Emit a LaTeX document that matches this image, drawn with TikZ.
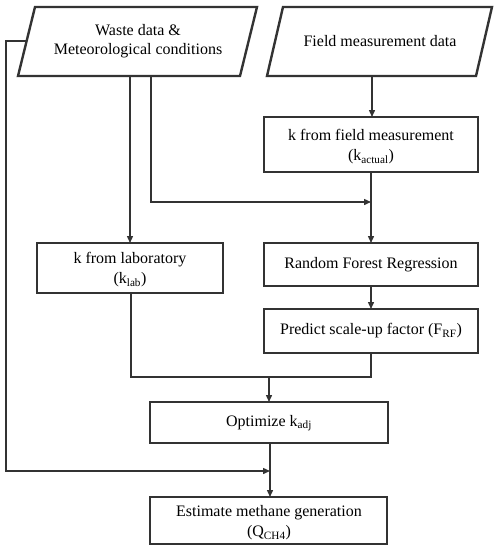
\documentclass[tikz,border=0pt]{standalone}
\usepackage{fontspec}
\setmainfont{Liberation Serif}
\newfontfamily\tnr{Liberation Serif}
\usetikzlibrary{arrows.meta}
\definecolor{ink}{HTML}{333333}
\tikzset{
  box/.style={draw=ink, line width=2.4pt, fill=white},
  lbl/.style={font=\tnr\fontsize{16}{19}\selectfont, align=center, text=black, inner sep=0pt},
  conn/.style={draw=ink, line width=1.4pt},
  arr/.style={conn, -{Triangle[length=7pt,width=6pt]}},
}
\begin{document}
\begin{tikzpicture}[x=1pt,y=-1pt]
\useasboundingbox (0,0) rectangle (500,549);
% parallelograms
\draw[box] (35,7) -- (257,7) -- (240,76) -- (18,76) -- cycle;
\draw[box] (283,7) -- (492,7) -- (476,76) -- (267,76) -- cycle;
\node[lbl] (waste) at (138,41.5) {Waste data \&\\Meteorological conditions};
\node[lbl] (field) at (380,41.5) {Field measurement data};
\coordinate (wasteL) at (26.5,41);
\coordinate (wasteB1) at (130,76);
\coordinate (wasteB2) at (151,76);
\coordinate (fieldB) at (372,76);
% boxes
\draw[box] (264,117) rectangle (478,172);
\node[lbl] (kact) at (371,147) {k from field measurement\\[1pt](k\textsubscript{actual})};
\coordinate (kactT) at (372,117);
\coordinate (kactB) at (371,172);
\draw[box] (37,243) rectangle (223,293);
\node[lbl] (klab) at (130,270) {k from laboratory\\[1pt](k\textsubscript{lab})};
\coordinate (klabT) at (130,243);
\coordinate (klabB) at (131,293);
\draw[box] (264,243) rectangle (478,286);
\node[lbl] (rf) at (371,265) {Random Forest Regression};
\coordinate (rfT) at (371,243);
\coordinate (rfB) at (371,286);
\draw[box] (264,309) rectangle (478,353);
\node[lbl] (pred) at (371,331) {Predict scale-up factor (F\textsubscript{RF})};
\coordinate (predT) at (371,309);
\coordinate (predB) at (371,353);
\draw[box] (150,402) rectangle (388,443);
\node[lbl] (opt) at (269,423) {Optimize k\textsubscript{adj}};
\coordinate (optT) at (269,402);
\coordinate (optB) at (270,443);
\draw[box] (150,497) rectangle (387,544);
\node[lbl] (est) at (269,523) {Estimate methane generation\\[1pt](Q\textsubscript{CH4})};
\coordinate (estT) at (270,497);
% connectors
\coordinate (j1) at (371,202);
\coordinate (j2) at (269,377);
\coordinate (j3) at (270,471);
\draw[arr] (fieldB) -- (kactT);
\draw[arr] (kactB) -- (rfT);
\draw[arr] (wasteB2) |- (j1);
\draw[arr] (wasteB1) -- (klabT);
\draw[arr] (rfB) -- (predT);
\draw[conn] (klabB) |- (predB |- j2) -- (predB);
\draw[arr] (j2) -- (optT);
\draw[arr] (optB) -- (estT);
\draw[arr] (wasteL) -- (6,41) -- (6,471) -- (j3);
\end{tikzpicture}
\end{document}
